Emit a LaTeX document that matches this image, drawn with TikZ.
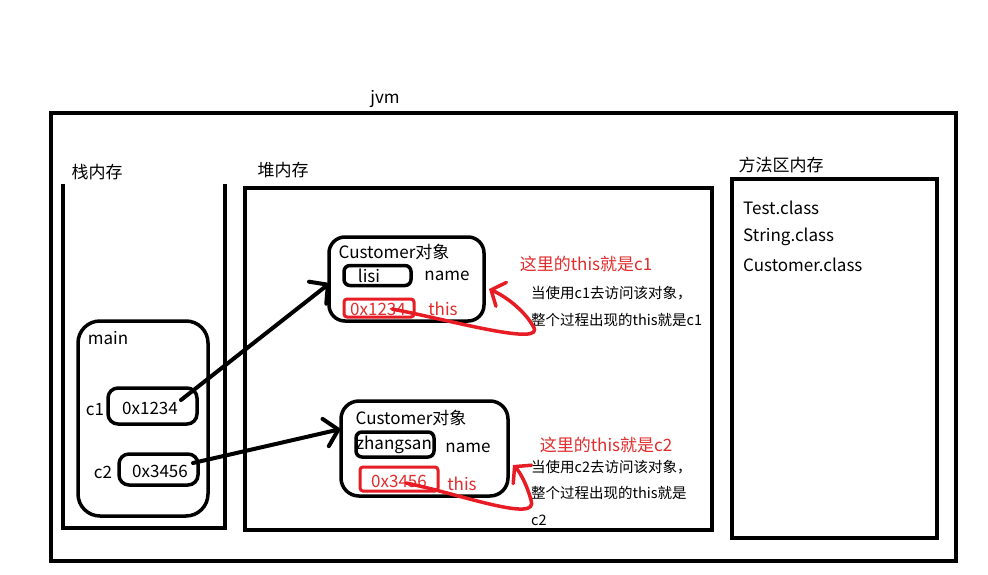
\documentclass[tikz,border=0pt]{standalone}
\usepackage{fontspec}
\setmainfont{Noto Sans CJK SC}
\usetikzlibrary{arrows.meta}
\definecolor{penred}{RGB}{232,28,36}
\definecolor{txtred}{RGB}{225,45,45}
\begin{document}
\begin{tikzpicture}[x=1pt,y=-1pt,
  frame/.style={draw,line width=4pt,inner sep=0pt},
  cell/.style={draw,line width=3.5pt,inner sep=0pt},
  redcell/.style={draw=penred,line width=3pt,inner sep=0pt,rounded corners=3pt},
  lbl/.style={inner sep=0pt,font=\fontsize{17}{17}\selectfont},
  smalllbl/.style={inner sep=0pt,anchor=west,font=\fontsize{14.5}{14.5}\selectfont},
  redlbl/.style={lbl,text=txtred},
  ptr/.style={line width=4pt,line cap=round,-{Straight Barb[length=13pt,width=28pt,line cap=round]}},
  selfref/.style={draw=penred,line width=3.5pt,line cap=round,-{Straight Barb[length=11pt,width=26pt,line cap=round]}}]
% canvas
\path[use as bounding box,fill=white] (0,0) rectangle (988,575);

% JVM frame
\node[frame,minimum width=905pt,minimum height=448pt] (jvm) at (503.5,337) {};
\node[lbl] (jvmlbl) at (385,99) {jvm};

% stack area (open at the top)
\draw[line width=4pt] (63,184) -- (63,528) -- (225,528) -- (225,184);
\node[lbl] (stacklbl) at (97,172) {栈内存};

% heap area
\node[frame,minimum width=467pt,minimum height=342pt] (heap) at (478.5,359) {};
\node[lbl] (heaplbl) at (283,170) {堆内存};

% method area
\node[frame,minimum width=205pt,minimum height=359pt] (method) at (834.5,358.5) {};
\node[lbl] (methodlbl) at (781,165) {方法区内存};
\node[lbl,anchor=west] (testcls) at (743,208) {Test.class};
\node[lbl,anchor=west] (stringcls) at (743,237) {String.class};
\node[lbl,anchor=west] (custcls) at (743,265) {Customer.class};

% main frame with local variables
\node[cell,rounded corners=22pt,minimum width=130pt,minimum height=195pt] (main) at (143,418.5) {};
\node[lbl] (mainlbl) at (108,338) {main};
\node[cell,rounded corners=10pt,minimum width=89pt,minimum height=36pt] (c1box) at (152.5,406) {};
\node[lbl] (c1val) at (150,408) {0x1234};
\node[lbl] (c1lbl) at (95,410) {c1};
\node[cell,rounded corners=10pt,minimum width=79pt,minimum height=31pt] (c2box) at (158.5,469.5) {};
\node[lbl] (c2val) at (160,471) {0x3456};
\node[lbl] (c2lbl) at (103,472) {c2};

% first Customer object
\node[cell,rounded corners=16pt,minimum width=155pt,minimum height=84pt] (obj1) at (406.5,279) {};
\node[lbl] (obj1lbl) at (394,252) {Customer对象};
\node[cell,rounded corners=6pt,minimum width=67pt,minimum height=20pt] (name1) at (377.5,275.5) {};
\node[lbl] (name1val) at (369,276) {lisi};
\node[lbl] (name1key) at (447,276) {name};
\node[redcell,minimum width=70pt,minimum height=18pt] (this1) at (379,308) {};
\node[redlbl] (this1val) at (378,309) {0x1234};
\node[redlbl] (this1key) at (443,309) {this};
\node[redlbl] (note1) at (586,264) {这里的this就是c1};
\node[smalllbl] (note1a) at (531,293) {当使用c1去访问该对象，};
\node[smalllbl] (note1b) at (531,320) {整个过程出现的this就是c1};

% second Customer object
\node[cell,rounded corners=18pt,minimum width=167pt,minimum height=95pt] (obj2) at (424.5,448.5) {};
\node[lbl] (obj2lbl) at (411,418) {Customer对象};
\node[cell,rounded corners=6pt,minimum width=78pt,minimum height=25pt] (name2) at (395,444.5) {};
\node[lbl] (name2val) at (394,445) {zhangsan};
\node[lbl] (name2key) at (468,448) {name};
\node[redcell,minimum width=78pt,minimum height=24pt] (this2) at (399,479) {};
\node[redlbl] (this2val) at (399,481) {0x3456};
\node[redlbl] (this2key) at (462,484) {this};
\node[redlbl] (note2) at (606,445) {这里的this就是c2};
\node[smalllbl] (note2a) at (531,467) {当使用c2去访问该对象，};
\node[smalllbl] (note2b) at (531,493) {整个过程出现的this就是};
\node[smalllbl] (note2c) at (531,520) {c2};

% references from the stack to the heap
\coordinate (c1src) at (181,400);
\coordinate (obj1in) at (330,283);
\coordinate (c2src) at (193,463);
\coordinate (obj2in) at (341,429);
\draw[ptr] (c1src) -- (obj1in);
\draw[ptr] (c2src) -- (obj2in);

% "this" self references
\coordinate (r1src) at (392,309);
\coordinate (r1tip) at (489,289);
\coordinate (r2src) at (406,483);
\coordinate (r2tip) at (513,465);
\draw[selfref] (r1src) .. controls (450,320) and (548,348) .. (533,326)
  .. controls (524,310) and (505,296) .. (r1tip);
\draw[selfref] (r2src) .. controls (460,494) and (540,524) .. (531,500)
  .. controls (527,485) and (520,472) .. (r2tip);
\end{tikzpicture}
\end{document}
